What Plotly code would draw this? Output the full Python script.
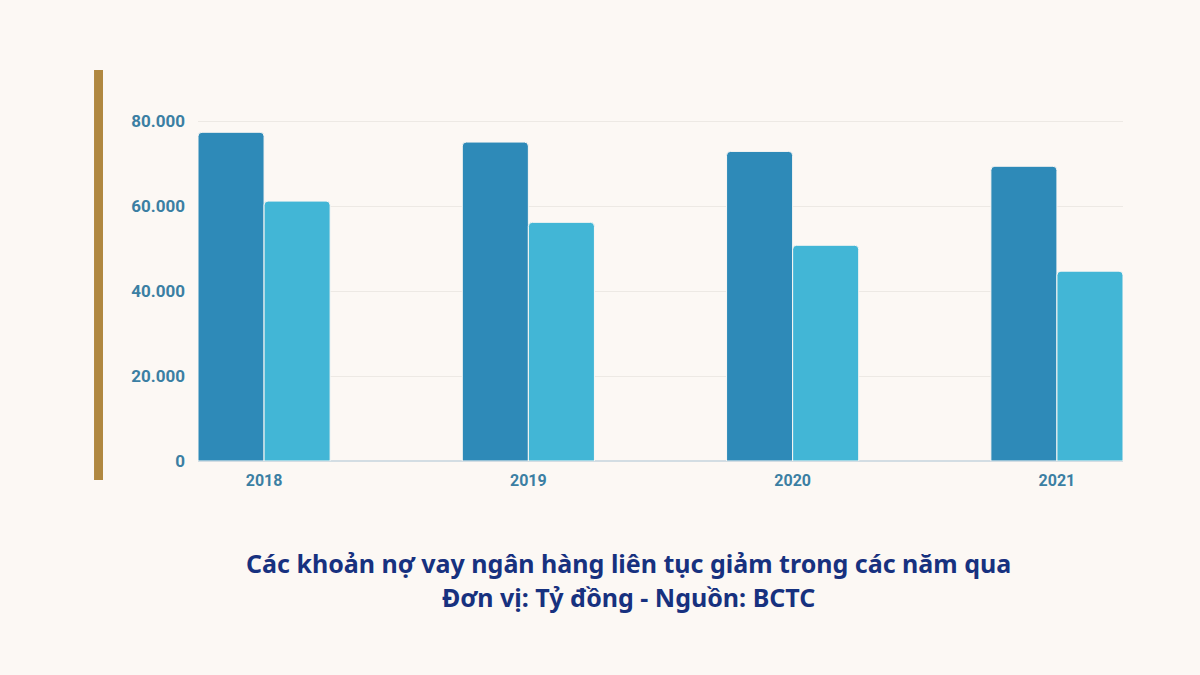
import plotly.graph_objects as go

years = ["2018", "2019", "2020", "2021"]
series_a = [77400, 75100, 72900, 69400]
series_b = [61200, 56200, 50800, 44700]
tick_vals = [0, 20000, 40000, 60000, 80000]

bg = "#fcf8f4"
tick_color = "#3b7fa3"

fig = go.Figure()
fig.add_trace(go.Bar(x=years, y=series_a, marker=dict(color="#2e8ab8", line=dict(color=bg, width=1)),
                     showlegend=False, hoverinfo="y"))
fig.add_trace(go.Bar(x=years, y=series_b, marker=dict(color="#42b6d6", line=dict(color=bg, width=1)),
                     showlegend=False, hoverinfo="y"))

fig.update_layout(
    width=1200, height=675,
    paper_bgcolor=bg, plot_bgcolor=bg,
    margin=dict(l=198, r=77, t=100, b=214),
    barmode="group", bargap=0.5, bargroupgap=0, barcornerradius=4,
    separators=",.",
    font=dict(family="Roboto", color=tick_color),
    xaxis=dict(range=[-0.25, 3.25], showgrid=False, zeroline=False, showline=False,
               ticks="", ticklabelstandoff=8,
               tickfont=dict(size=16, color=tick_color, family="Roboto", weight="bold")),
    yaxis=dict(range=[0, 85000], tickvals=tick_vals, tickformat=",d",
               showgrid=True, gridcolor="#ede9e4", gridwidth=1,
               zeroline=True, zerolinecolor="#d3dde3", zerolinewidth=2,
               showline=False, ticks="", ticklabelstandoff=12,
               tickfont=dict(size=17, color=tick_color, family="Roboto", weight="bold")),
)

fig.add_shape(type="rect", xref="paper", yref="paper",
              x0=-0.1124, x1=-0.1027, y0=-0.0526, y1=1.083,
              fillcolor="#b08840", line=dict(width=0))

title_font = dict(family="Noto Sans", size=25, color="#17317f", weight="bold")
fig.add_annotation(text="Các khoản nợ vay ngân hàng liên tục giảm trong các năm qua",
                   xref="paper", yref="paper", x=0.465, y=-0.2826, showarrow=False,
                   font=title_font, xanchor="center", yanchor="middle")
fig.add_annotation(text="Đơn vị: Tỷ đồng - Nguồn: BCTC",
                   xref="paper", yref="paper", x=0.465, y=-0.3767, showarrow=False,
                   font=title_font, xanchor="center", yanchor="middle")

fig.write_html("out.html", config={"displayModeBar": False},
               post_script="document.body.style.margin='0';")
